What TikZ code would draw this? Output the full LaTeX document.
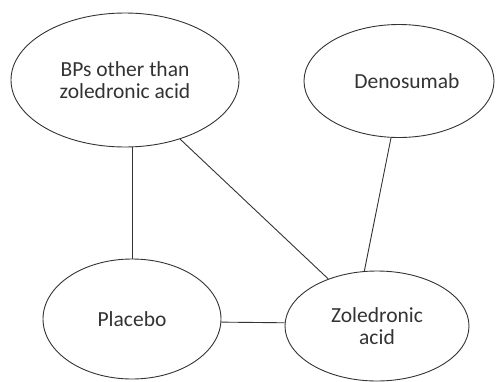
\documentclass[tikz,border=0pt]{standalone}
\usepackage{fontspec}
\setmainfont{Carlito}
\usetikzlibrary{shapes.geometric}
\definecolor{ink}{HTML}{333333}
\tikzset{
  oval/.style={ellipse, draw=ink, line width=0.9pt, inner sep=0pt, align=center,
    text=ink, font=\fontsize{21.5}{21.5}\selectfont},
  link/.style={draw=ink, line width=0.9pt}
}
\begin{document}
\begin{tikzpicture}[x=1pt,y=-1pt]
\useasboundingbox (0,0) rectangle (496,381);
\node[oval, minimum width=228pt, minimum height=134pt] (bp) at (125,80) {BPs other than\\zoledronic acid};
\node[oval, minimum width=190pt, minimum height=113pt] (dn) at (399,81) {\hspace*{16pt}Denosumab};
\node[oval, minimum width=178pt, minimum height=120pt] (pl) at (132,319) {Placebo};
\node[oval, minimum width=184pt, minimum height=110pt] (zl) at (377,326) {Zoledronic\\acid};
\draw[link] (pl.north) -- (pl.north |- bp.south);
\draw[link] (bp.-47.5) -- (zl.136.8);
\draw[link] (dn.-98) -- (zl.103);
\draw[link] (pl.-2.6) -- (zl.178);
\end{tikzpicture}
\end{document}
